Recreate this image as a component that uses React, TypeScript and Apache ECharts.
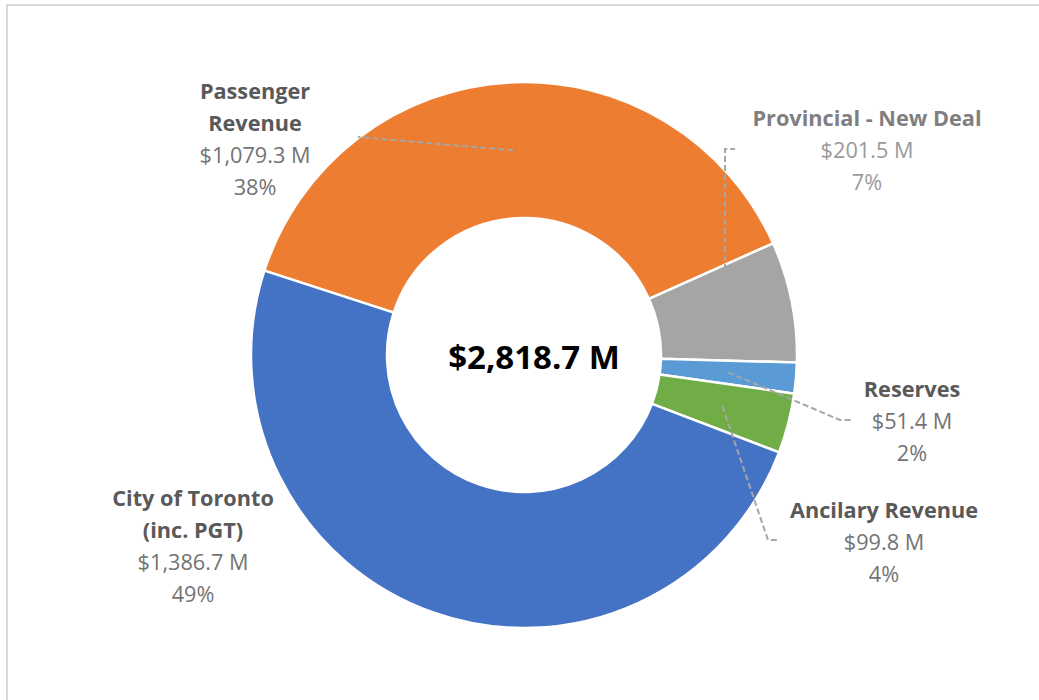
import React, { useEffect, useRef } from "react";
import * as echarts from "echarts";

// ---- data ----
const categories = [
  "Passenger\nRevenue",
  "Provincial - New Deal",
  "Reserves",
  "Ancilary Revenue",
  "City of Toronto\n(inc. PGT)",
];
const values = [1079.3, 201.5, 51.4, 99.8, 1386.7];
const sliceColors = ["#ED7D31", "#A5A5A5", "#5B9BD5", "#70AD47", "#4472C4"];
const labelNameColors = ["#595959", "#7F7F7F", "#595959", "#595959", "#595959"];
const labelValueColors = ["#737373", "#9A9A9A", "#737373", "#737373", "#737373"];

// ---- layout ----
const CX = 524;
const CY = 355;
const R_IN = 137;
const R_OUT = 273;
const START_ANGLE = 162;
const FONT = '"Open Sans", "Noto Sans", sans-serif';
const labelPos: number[][] = [
  [255, 138.5],
  [867, 149.5],
  [912, 420],
  [884, 541],
  [193, 545],
];
// leader line tail points (after the in-slice anchor); null x = anchor's x; null = no leader
const leaderTails: (Array<Array<number | null>> | null)[] = [
  [[358, 137]],
  [[null, 149], [735, 149]],
  [[840, 420], [853, 420]],
  [[768, 540], [778, 540]],
  null,
];

const total = values.reduce((a, b) => a + b, 0);
const fmtMoney = (v: number) =>
  "$" +
  v.toLocaleString("en-US", { minimumFractionDigits: 1, maximumFractionDigits: 1 }) +
  " M";

function anchorOf(i: number): number[] {
  let cum = 0;
  for (let k = 0; k < i; k++) cum += values[k];
  const mid = START_ANGLE - ((cum + values[i] / 2) / total) * 360;
  const rad = (mid * Math.PI) / 180;
  const r = (R_IN + R_OUT) / 2;
  return [CX + r * Math.cos(rad), CY - r * Math.sin(rad)];
}

export default function App() {
  const ref = useRef<HTMLDivElement>(null);
  useEffect(() => {
    if (!ref.current) return;
    const chart = echarts.init(ref.current, null, { renderer: "svg" });
    const rich: any = {};
    categories.forEach((_, i) => {
      rich["n" + i] = {
        fontFamily: FONT,
        fontSize: 21.7,
        fontWeight: "bold",
        color: labelNameColors[i],
        lineHeight: 32,
        align: "center",
      };
      rich["v" + i] = {
        fontFamily: FONT,
        fontSize: 21.7,
        color: labelValueColors[i],
        lineHeight: 32,
        align: "center",
      };
    });
    const leaders: any[] = [];
    leaderTails.forEach((tail, i) => {
      if (!tail) return;
      const a = anchorOf(i);
      const points = [a, ...tail.map((p) => [p[0] == null ? a[0] : (p[0] as number), p[1] as number])];
      leaders.push({
        type: "polyline",
        z: 100,
        silent: true,
        shape: { points },
        style: { stroke: "#A6A6A6", lineWidth: 2, lineDash: [6, 3], fill: "none" },
      });
    });
    chart.setOption({
      animation: false,
      backgroundColor: "#ffffff",
      graphic: [
        {
          type: "rect",
          shape: { x: 7, y: 5, width: 1200, height: 900 },
          style: { fill: "none", stroke: "#D9D9D9", lineWidth: 2 },
          silent: true,
        },
        {
          type: "text",
          x: CX + 10,
          y: CY + 1,
          z: 100,
          style: {
            text: fmtMoney(total),
            fontFamily: FONT,
            fontSize: 33,
            fontWeight: "bold",
            fill: "#000000",
            align: "center",
            verticalAlign: "middle",
          },
          silent: true,
        },
        ...leaders,
      ],
      series: [
        {
          type: "pie",
          center: [CX, CY],
          radius: [R_IN, R_OUT],
          startAngle: START_ANGLE,
          clockwise: true,
          avoidLabelOverlap: false,
          itemStyle: { borderColor: "#ffffff", borderWidth: 2.5 },
          emphasis: { disabled: true },
          label: {
            show: true,
            position: "outside",
            formatter: (p: any) => {
              const i = p.dataIndex;
              const pct = Math.round((p.value / total) * 100);
              return `{n${i}|${p.name}}\n{v${i}|${fmtMoney(p.value)}}\n{v${i}|${pct}%}`;
            },
            rich,
          },
          labelLine: { show: false },
          labelLayout: (params: any) => {
            const i = params.dataIndex;
            return {
              x: labelPos[i][0],
              y: labelPos[i][1],
              align: "center",
              verticalAlign: "middle",
            };
          },
          data: categories.map((name, i) => ({
            name,
            value: values[i],
            itemStyle: { color: sliceColors[i] },
          })),
        },
      ],
    });
    return () => chart.dispose();
  }, []);
  return (
    <div
      ref={ref}
      style={{ position: "fixed", left: 0, top: 0, width: 1039, height: 700, background: "#fff" }}
    />
  );
}
